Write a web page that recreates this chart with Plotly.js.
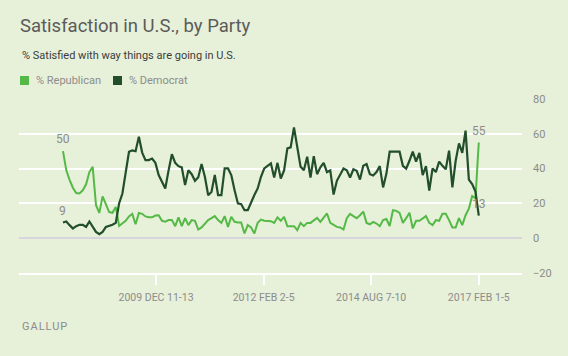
<!DOCTYPE html>
<html>
<head>
<meta charset="utf-8">
<script src="https://cdn.plot.ly/plotly-3.0.1.min.js"></script>
<style>html,body{margin:0;padding:0;background:#e7f0d8;}</style>
</head>
<body>
<div id="chart" style="width:568px;height:356px;"></div>
<script>
// % Republican satisfied (poll sequence, oldest to newest)
const republican = [50,39,33.5,29,26,25.7,27.5,31,38,41,
19,14.5,24,20,15,14.6,18,7,8.5,10,
12.5,14,8,14.5,14,12.5,12,12,13,13.2,
10,9.5,10.4,10.4,6.9,12,6.9,11.5,7.5,10.4,
10,5,6.2,8.4,10.4,11.5,12.7,10.4,8.8,12.7,
6.5,12.3,9.4,9,9,2.7,7.5,6.2,2.7,8.8,
10.7,10,10,9.8,8.8,12,10,12.3,6.9,6.9,
6.9,4.6,8.8,6.9,8.8,8.8,10.4,11.7,9.4,12,
14.2,8.8,7.5,6.5,6.2,5,11.5,14,12.7,11.5,
13.2,15.3,8.8,8,9.4,8.4,6.9,10.4,11,7,
16.1,15.7,14.6,8.8,11.5,14.6,5.6,10,10,11.5,
12.7,8.8,7.5,10.4,10,14,14,10.4,6.2,6.2,
11.5,7.5,13.2,17,24.2,23,55];

// % Democrat satisfied
const democrat = [9,9.6,7.5,5.6,6.9,7.7,7.7,6.5,9.6,6.9,
3.6,2.3,3.6,6.5,6.9,7.7,8.8,20,25.7,39,
49.7,50.5,50,58.3,49.2,44.9,44.9,45.8,43.3,36.3,
32.4,28.6,39,48.3,43.3,41.4,40.7,30.5,39,36.8,
33,35,42.6,35.3,24.7,26.6,36.3,24.8,24.8,40.1,
40.1,36.3,27.6,20,19.6,16.1,16.1,21,24.8,28.6,
35.3,40.1,41.4,43,34.9,43.3,34.3,39,51.6,52.2,
63.7,51.6,41.1,39,46.8,34.9,47.1,36.8,40.7,43.3,
38,39,25.1,33,37,40.1,39,34.9,39.6,38.7,
33.7,41.6,42.6,36.8,36,38,41.4,29.2,37,49.7,
49.7,49.7,49.7,41.6,40,44.5,49.7,44,49,36.3,
41.4,27.3,40.1,38,44,41.6,39.6,50.3,29.2,44.5,
54.5,49,61.8,33.7,31.1,26.8,13];

const tickIdx = [28.2, 60.8, 93.4, 126];
const tickLabels = ['2009 DEC 11-13', '2012 FEB 2-5', '2014 AUG 7-10', '2017 FEB 1-5'];
const yTicks = [-20, 0, 20, 40, 60, 80];

const seriesNames = ['% Republican', '% Democrat'];
const colors = ['#55b947', '#224e2b'];

const idx = republican.map((_, i) => i);

// layout helpers: pixel -> paper coordinates (plot area x 19..522, y 99..273)
const PL = 19, PR = 522, PT = 99, PB = 273;
const px = x => (x - PL) / (PR - PL);
const py = y => (PB - y) / (PB - PT);

const gray = '#8c8c8c';
const FONT = 'Roboto, "Open Sans", sans-serif';

const traces = [
  {x: idx, y: republican, type: 'scatter', mode: 'lines', name: seriesNames[0],
   line: {color: colors[0], width: 2}, hoverinfo: 'skip'},
  {x: idx, y: democrat, type: 'scatter', mode: 'lines', name: seriesNames[1],
   line: {color: colors[1], width: 2.2}, hoverinfo: 'skip'}
];

const last = republican.length - 1;
const endLabels = [
  {x: 0, y: republican[0]}, {x: 0, y: democrat[0]},
  {x: last, y: republican[last]}, {x: last, y: democrat[last]}
].map(p => ({x: p.x, y: p.y, xref: 'x', yref: 'y', text: String(Math.round(p.y)),
  showarrow: false, yshift: 12, xanchor: 'center', yanchor: 'middle',
  font: {family: FONT, size: 12, color: gray}}));

const layout = {
  width: 568, height: 356,
  margin: {l: PL, r: 568 - PR, t: PT, b: 356 - PB, pad: 0},
  paper_bgcolor: '#e7f0d8', plot_bgcolor: '#e7f0d8',
  showlegend: false,
  title: {text: 'Satisfaction in U.S., by Party', x: 20/568, xanchor: 'left', xref: 'container',
          y: 1 - 19/356, yanchor: 'top', yref: 'container',
          font: {family: FONT, size: 18.5, color: '#5b5b5b'}},
  xaxis: {range: [-13.33, 139.1], tickmode: 'array', tickvals: tickIdx, ticktext: tickLabels,
          showgrid: false, zeroline: false, showline: true, linecolor: '#ffffff', linewidth: 2,
          ticks: 'outside', ticklen: 10, tickwidth: 2, tickcolor: '#ffffff', ticklabelstandoff: 3,
          tickfont: {family: FONT, size: 10.5, color: gray}, fixedrange: true},
  yaxis: {range: [-20, 80], side: 'right', tickmode: 'array', tickvals: yTicks,
          showgrid: true, gridcolor: '#ffffff', gridwidth: 2,
          zeroline: true, zerolinecolor: '#d6d6dc', zerolinewidth: 2,
          showline: false, ticks: '', ticklabelstandoff: 10,
          tickfont: {family: FONT, size: 11, color: gray}, fixedrange: true},
  shapes: [
    {type: 'rect', xref: 'paper', yref: 'paper', x0: px(20), x1: px(29), y0: py(85), y1: py(76),
     fillcolor: colors[0], line: {width: 0}},
    {type: 'rect', xref: 'paper', yref: 'paper', x0: px(113), x1: px(122), y0: py(85), y1: py(76),
     fillcolor: colors[1], line: {width: 0}}
  ],
  annotations: [
    {xref: 'paper', yref: 'paper', x: px(20), y: py(55), xanchor: 'left', yanchor: 'middle',
     text: '% Satisfied with way things are going in U.S.', showarrow: false,
     font: {family: FONT, size: 11, color: '#3c3c3c'}},
    {xref: 'paper', yref: 'paper', x: px(34), y: py(80.5), xanchor: 'left', yanchor: 'middle',
     text: seriesNames[0], showarrow: false, font: {family: FONT, size: 11, color: gray}},
    {xref: 'paper', yref: 'paper', x: px(127), y: py(80.5), xanchor: 'left', yanchor: 'middle',
     text: seriesNames[1], showarrow: false, font: {family: FONT, size: 11, color: gray}},
    {xref: 'paper', yref: 'paper', x: px(20), y: py(326), xanchor: 'left', yanchor: 'middle',
     text: '<span style="letter-spacing:1px">GALLUP</span>', showarrow: false,
     font: {family: FONT, size: 11, color: gray}}
  ].concat(endLabels)
};

Plotly.newPlot('chart', traces, layout, {staticPlot: true, displayModeBar: false});
</script>
</body>
</html>
